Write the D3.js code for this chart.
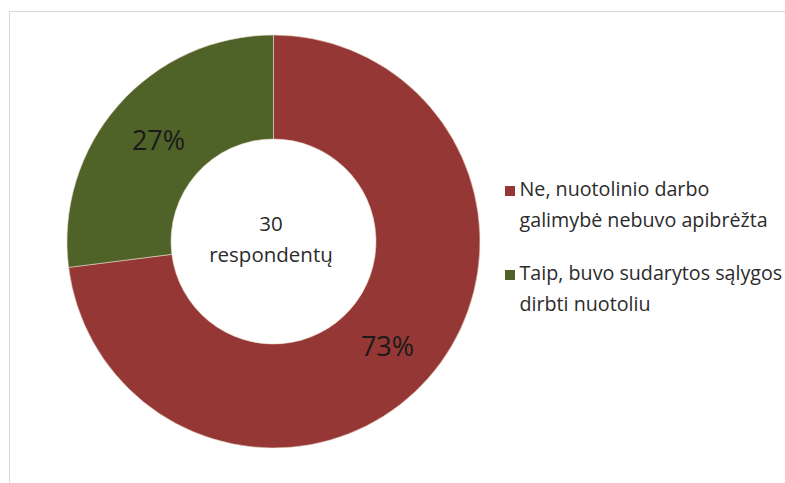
<!DOCTYPE html>
<html>
<head>
<meta charset="utf-8">
<script src="https://cdn.jsdelivr.net/npm/d3@7"></script>
<style>
  html, body { margin: 0; padding: 0; background: #fff; }
  svg { display: block; }
  text { font-family: "Open Sans", Lato, sans-serif; }
</style>
</head>
<body>
<svg id="chart" width="785" height="483"></svg>
<script>
const categories = ["Ne, nuotolinio darbo galimybė nebuvo apibrėžta", "Taip, buvo sudarytos sąlygos dirbti nuotoliu"];
const legendLines = [["Ne, nuotolinio darbo", "galimybė nebuvo apibrėžta"], ["Taip, buvo sudarytos sąlygos", "dirbti nuotoliu"]];
const values = [73, 27];
const percentLabels = ["73%", "27%"];
const colors = ["#953735", "#4f6228"];
const centerLines = ["30", "respondentų"];

const svg = d3.select("#chart");

// frame
svg.append("rect").attr("x", 9.5).attr("y", 11.5).attr("width", 800).attr("height", 500)
  .attr("fill", "#fff").attr("stroke", "#d9d9d9").attr("stroke-width", 1);

const cx = 273.5, cy = 241.5, outerR = 206.5, innerR = 102.5;

const pie = d3.pie().sort(null).value(d => d)(values);
const arc = d3.arc().innerRadius(innerR).outerRadius(outerR);
const g = svg.append("g").attr("transform", `translate(${cx},${cy})`);

g.selectAll("path.slice").data(pie).join("path")
  .attr("class", "slice")
  .attr("d", arc)
  .attr("fill", (d, i) => colors[i])
  .attr("stroke", "#e8d8c8").attr("stroke-width", 0.6);

// percent labels
const labelPos = [[114, 104], [-115, -102]];
g.selectAll("text.pct").data(pie).join("text")
  .attr("class", "pct")
  .attr("transform", (d, i) => `translate(${labelPos[i][0]},${labelPos[i][1]})`)
  .attr("text-anchor", "middle")
  .attr("dominant-baseline", "central")
  .attr("font-family", "Lato, sans-serif")
  .attr("font-size", 27)
  .attr("fill", "#1a1a1a")
  .text((d, i) => percentLabels[i]);

// center text
g.selectAll("text.center").data(centerLines).join("text")
  .attr("class", "center")
  .attr("x", -2.5)
  .attr("y", (d, i) => -10.5 + i * 31)
  .attr("text-anchor", "middle")
  .attr("font-size", 20.5)
  .attr("fill", "#2b2b2b")
  .text(d => d);

// legend
const legend = svg.append("g");
const legendY = [196, 280];
categories.forEach((c, i) => {
  const lg = legend.append("g").attr("transform", `translate(505,${legendY[i]})`);
  lg.append("rect").attr("x", 0).attr("y", -10).attr("width", 10).attr("height", 10).attr("fill", colors[i]);
  lg.selectAll("text").data(legendLines[i]).join("text")
    .attr("x", 14.5)
    .attr("y", (d, j) => j * 30.5)
    .attr("font-size", 19.7)
    .attr("fill", "#2b2b2b")
    .text(d => d);
});
</script>
</body>
</html>
